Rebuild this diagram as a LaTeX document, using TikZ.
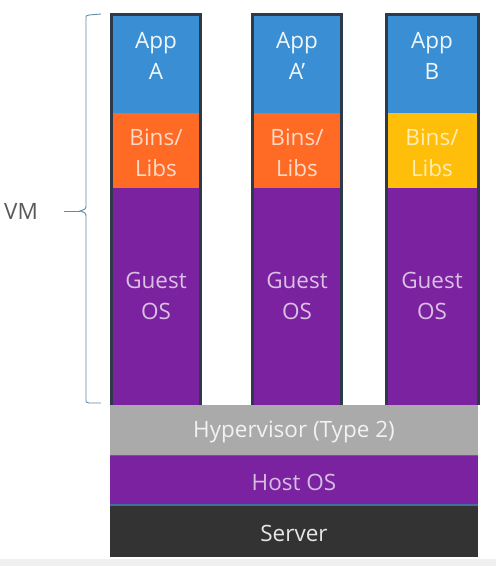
\documentclass[tikz,border=0pt]{standalone}
\usepackage{fontspec}
\setmainfont{Open Sans}
\definecolor{appblue}{HTML}{3A8FD4}
\definecolor{binorange}{HTML}{FF6A24}
\definecolor{binyellow}{HTML}{FFBE0A}
\definecolor{guestpurple}{HTML}{7A22A0}
\definecolor{colborder}{HTML}{2E3A4A}
\definecolor{hypgray}{HTML}{AAAAAA}
\definecolor{serverdark}{HTML}{333333}
\definecolor{bracecol}{HTML}{5F8DA8}
\definecolor{seplin}{HTML}{3F6FA0}
\begin{document}
\begin{tikzpicture}[x=1pt,y=-1pt,
  lbl/.style={font=\fontsize{22.5}{31}\selectfont, align=center, inner sep=0pt},
  apptxt/.style={lbl, text=white!92!appblue},
  bintxt/.style={lbl, text=white!75!binorange},
  binytxt/.style={lbl, text=white!70!binyellow},
  guesttxt/.style={lbl, text=white!72!guestpurple},
  hyptxt/.style={lbl, text=white!85!hypgray},
  hosttxt/.style={lbl, text=white!70!guestpurple},
  servtxt/.style={lbl, text=white!88!serverdark}]
\useasboundingbox (0,0) rectangle (496,566);
\fill[white] (0,0) rectangle (496,566);
\fill[black!6] (0,559) rectangle (496,566);
% columns
\foreach \xl/\xr/\nm in {110/202/a,251/343/b,385/480/c}{
  \fill[colborder] (\xl,13) rectangle (\xr,405);
  \fill[appblue] (\xl+3,16) rectangle (\xr-3,113);
  \fill[guestpurple] (\xl+3,188) rectangle (\xr-3,405);
}
\fill[binorange] (113,113) rectangle (199,188);
\fill[binorange] (254,113) rectangle (340,188);
\fill[binyellow] (388,113) rectangle (477,188);
% base layers
\fill[hypgray] (110,405) rectangle (478,455);
\fill[guestpurple] (110,455) rectangle (478,505);
\fill[serverdark] (110,505) rectangle (478,557);
\draw[seplin, line width=1pt] (110,455) -- (478,455);
\draw[seplin, line width=1.5pt] (110,505) -- (478,505);
% texts
\node[apptxt] (appa) at (156,56) {App\\A};
\node[apptxt] (appb) at (297,56) {App\\A’};
\node[apptxt] (appc) at (432,56) {App\\B};
\node[bintxt] (bina) at (156,153) {Bins/\\Libs};
\node[bintxt] (binb) at (297,153) {Bins/\\Libs};
\node[binytxt] (binc) at (432,153) {Bins/\\Libs};
\node[guesttxt] (ga) at (156,296) {Guest\\OS};
\node[guesttxt] (gb) at (297,296) {Guest\\OS};
\node[guesttxt] (gc) at (432,296) {Guest\\OS};
\node[hyptxt] (hyp) at (294,432) {Hypervisor (Type 2)};
\node[hosttxt] (host) at (294,482) {Host OS};
\node[servtxt] (serv) at (294,533) {Server};
% brace
\draw[bracecol, line width=0.9pt] (101,14) -- (89,15) .. controls (86,15.5) .. (86,19)
  -- (86,205) .. controls (86,209) .. (80,211) .. controls (86,213) .. (86,217)
  -- (86,399) .. controls (86,402.5) .. (89,403) -- (101,403);
\coordinate (bt) at (80,211);
\coordinate (bl) at (64,211);
\draw[bracecol, line width=0.9pt] (bt) -- (bl);
\node[lbl, text=black!65, anchor=west] (vm) at (4,211) {VM};
\end{tikzpicture}
\end{document}
